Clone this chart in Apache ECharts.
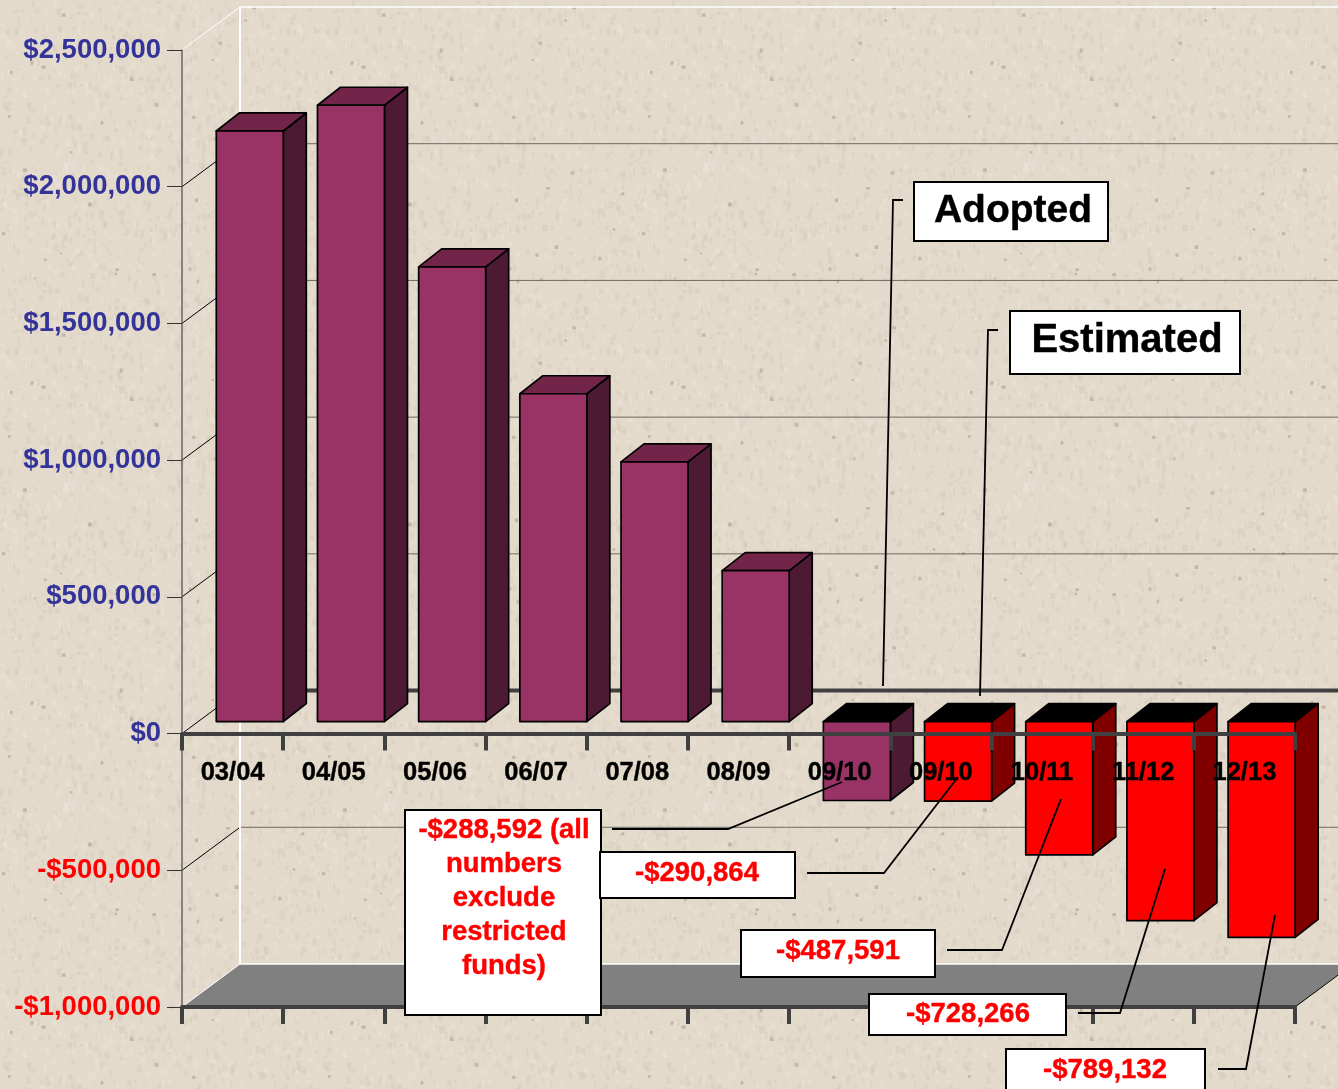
<!DOCTYPE html>
<html>
<head>
<meta charset="utf-8">
<style>html,body{margin:0;padding:0;background:#e3d9ca;overflow:hidden}#c{width:1338px;height:1089px}</style>
<script src="https://cdn.jsdelivr.net/npm/echarts@6/dist/echarts.min.js"></script>
</head>
<body>
<div id="c"></div>
<script>
var categories = ['03/04','04/05','05/06','06/07','07/08','08/09','09/10','09/10','10/11','11/12','12/13'];
var purpleValues = [2160000,2254000,1663000,1199000,950000,552000,-288592];
var redValues = [-290864,-487591,-728266,-789132];
var redStartIndex = 7;
var yTicks = [-1000000,-500000,0,500000,1000000,1500000,2000000,2500000];
var yTickLabels = ['-$1,000,000','-$500,000','$0','$500,000','$1,000,000','$1,500,000','$2,000,000','$2,500,000'];

var FONT = '"Liberation Sans", Arial, sans-serif';
var GRID_H = 957;
var WALL_DX = 58, WALL_DY = -43;      // depth of the 3D box
var BAR_DX = 17.2, BAR_DY = -12;      // bars stand in the middle of the floor
var BAR_W = 67, SIDE_DX = 23, SIDE_DY = -18;
var yMin = yTicks[0], yMax = yTicks[yTicks.length - 1];
var zeroOffset = -GRID_H * (0 - yMin) / (yMax - yMin);

// paper-like background tile, deterministic speckles
function textureTile() {
  var S = 320, cv = document.createElement('canvas');
  cv.width = S; cv.height = S;
  var g = cv.getContext('2d');
  g.fillStyle = '#e3dacb';
  g.fillRect(0, 0, S, S);
  var seed = 12345;
  function next() { seed = (seed * 1103515245 + 12345) & 0x7fffffff; return seed / 0x7fffffff; }
  var i, x, y;
  for (i = 0; i < 1800; i++) {
    x = next() * S; y = next() * S;
    var light = next() > 0.5;
    g.fillStyle = light ? 'rgba(236,229,218,0.35)' : 'rgba(205,195,178,0.28)';
    g.fillRect(x, y, 1 + next() * 4, 2 + next() * 6);
  }
  for (i = 0; i < 36; i++) {
    x = next() * S; y = next() * S;
    g.fillStyle = 'rgba(150,140,125,0.45)';
    g.fillRect(x, y, 2 + next() * 2, 2 + next() * 2);
  }
  return cv;
}

function wallItem(params, api) {
  var v = api.value(1);
  var band = api.size([1, 0])[0];
  var p = api.coord([0, v]);
  var L = p[0] - band / 2, y = p[1];
  var R = api.coord([categories.length - 1, v])[0] + band / 2;
  var backL = L + WALL_DX, backR = R + WALL_DX, backY = y + WALL_DY;
  var isTop = v === yMax, isBottom = v === yMin, isZero = v === 0;
  var kids = [];
  if (isBottom) {
    kids.push({ type: 'polygon', shape: { points: [[L, y], [backL, backY], [backR, backY], [R, y]] }, style: { fill: '#808080', stroke: null } });
    kids.push({ type: 'line', shape: { x1: R, y1: y, x2: backR, y2: backY }, style: { stroke: '#000', lineWidth: 1 } });
  }
  if (isTop) {
    var bottomY = api.coord([0, yMin])[1] + WALL_DY;
    kids.push({ type: 'line', shape: { x1: backL, y1: backY, x2: backL, y2: bottomY }, style: { stroke: '#fff', lineWidth: 2 } });
  }
  kids.push({ type: 'line', shape: { x1: L, y1: y, x2: backL, y2: backY },
    style: { stroke: (isTop || isBottom) ? '#fff' : '#000', lineWidth: 1 } });
  kids.push({ type: 'line', shape: { x1: backL, y1: backY, x2: backR, y2: backY },
    style: { stroke: (isTop || isBottom) ? '#fff' : (isZero ? '#404040' : '#6e6a5f'), lineWidth: isZero ? 4 : ((isTop || isBottom) ? 1.5 : 1) } });
  return { type: 'group', children: kids };
}

function barRenderer(front, side, topPos) {
  return function (params, api) {
    var i = api.value(0), v = api.value(1);
    var base = api.coord([i, 0]), end = api.coord([i, v]);
    var x0 = base[0] + BAR_DX - BAR_W / 2, x1 = x0 + BAR_W;
    var yBase = base[1] + BAR_DY, yEnd = end[1] + BAR_DY;
    var yTop = Math.min(yBase, yEnd), yBot = Math.max(yBase, yEnd);
    var st = { stroke: '#000', lineWidth: 1.7, lineJoin: 'round' };
    return { type: 'group', children: [
      { type: 'polygon', shape: { points: [[x1, yTop], [x1 + SIDE_DX, yTop + SIDE_DY], [x1 + SIDE_DX, yBot + SIDE_DY], [x1, yBot]] },
        style: Object.assign({ fill: side }, st) },
      { type: 'polygon', shape: { points: [[x0, yTop], [x0 + SIDE_DX, yTop + SIDE_DY], [x1 + SIDE_DX, yTop + SIDE_DY], [x1, yTop]] },
        style: Object.assign({ fill: v >= 0 ? topPos : '#000' }, st) },
      { type: 'rect', shape: { x: x0, y: yTop, width: BAR_W, height: yBot - yTop },
        style: Object.assign({ fill: front }, st) }
    ] };
  };
}

var purpleData = purpleValues.map(function (v, i) { return [i, v]; });
var redData = redValues.map(function (v, i) { return [redStartIndex + i, v]; });

function box(x, y, w, h, txt, tx, ty, color, size, lh) {
  return {
    type: 'rect', z: 30, silent: true,
    shape: { x: x, y: y, width: w, height: h },
    style: { fill: '#fff', stroke: '#000', lineWidth: 2 },
    textContent: { style: { text: txt, fill: color, stroke: color, lineWidth: 0.4, font: 'bold ' + size + 'px ' + FONT, align: 'center', verticalAlign: 'middle', lineHeight: lh || size * 1.2 }, z: 31 },
    textConfig: { position: [tx - x, ty - y] }
  };
}
function leader(pts) {
  return { type: 'polyline', z: 29, silent: true, shape: { points: pts }, style: { stroke: '#000', lineWidth: 1.8, fill: null } };
}

var chart = echarts.init(document.getElementById('c'), null, { renderer: 'canvas', width: 1338, height: 1089 });
chart.setOption({
  animation: false,
  backgroundColor: { image: textureTile(), repeat: 'repeat' },
  grid: { left: 182, right: 43, top: 50, height: GRID_H, containLabel: false },
  xAxis: [
    { type: 'category', data: categories, position: 'bottom', offset: zeroOffset, z: 6,
      axisLine: { onZero: false, lineStyle: { color: '#404040', width: 4 } },
      axisTick: { show: true, interval: 0, length: 17, lineStyle: { color: '#404040', width: 4 } },
      axisLabel: { interval: 0, margin: 26, color: '#000', fontFamily: FONT, fontWeight: 'bold', fontSize: 25.5, textBorderColor: '#000', textBorderWidth: 0.4 },
      splitLine: { show: false } },
    { type: 'category', data: categories, position: 'bottom', z: 6,
      axisLine: { onZero: false, lineStyle: { color: '#404040', width: 4 } },
      axisTick: { show: true, interval: 0, length: 17, lineStyle: { color: '#404040', width: 4 } },
      axisLabel: { show: false }, splitLine: { show: false } }
  ],
  yAxis: {
    type: 'value', min: yMin, max: yMax, interval: 500000, z: 5,
    axisLine: { show: true, onZero: false, lineStyle: { color: '#666', width: 1.5 } },
    axisTick: { show: true, length: 15, lineStyle: { color: '#333', width: 1 } },
    splitLine: { show: false },
    axisLabel: {
      margin: 21, fontFamily: FONT, fontWeight: 'bold', fontSize: 27.5, padding: [6, 0, 0, 0],
      formatter: function (v) { return yTickLabels[yTicks.indexOf(v)]; },
      color: function (v) { return Number(v) < 0 ? '#ff0000' : '#333399'; }
    }
  },
  series: [
    { type: 'custom', name: 'walls', z: 1, silent: true, clip: false,
      renderItem: wallItem,
      data: yTicks.map(function (v) { return [0, v]; }) },
    { type: 'custom', name: 'Adopted and prior', z: 2, silent: true, clip: false, renderItem: barRenderer('#993366', '#4d1a33', '#732549'), data: purpleData },
    { type: 'custom', name: 'Estimated', z: 2, silent: true, clip: false, renderItem: barRenderer('#ff0000', '#800000', '#000'), data: redData }
  ],
  graphic: { elements: [
    leader([[903, 200], [893, 200], [883, 686]]),
    leader([[998, 330], [988, 330], [980, 696]]),
    leader([[612, 829], [728, 829], [842, 782]]),
    leader([[807, 873], [884, 873], [958, 777]]),
    leader([[947, 950], [1002, 950], [1061, 799]]),
    leader([[1078, 1013], [1120, 1013], [1165, 869]]),
    leader([[1218, 1069], [1246, 1069], [1275, 915]]),
    box(914, 182, 194, 59, 'Adopted', 1014, 212, '#000', 39),
    box(1010, 311, 230, 63, 'Estimated', 1128, 342, '#000', 40),
    box(405, 810, 196, 205, '-$288,592 (all\nnumbers\nexclude\nrestricted\nfunds)', 505, 899, '#ff0000', 27.5, 34),
    box(600, 852, 195, 46, '-$290,864', 698, 874, '#ff0000', 27.5),
    box(741, 930, 194, 47, '-$487,591', 839, 952, '#ff0000', 27.5),
    box(869, 994, 197, 41, '-$728,266', 969, 1015, '#ff0000', 27.5),
    box(1006, 1049, 199, 60, '-$789,132', 1106, 1071, '#ff0000', 27.5)
  ] }
});
</script>
</body>
</html>
